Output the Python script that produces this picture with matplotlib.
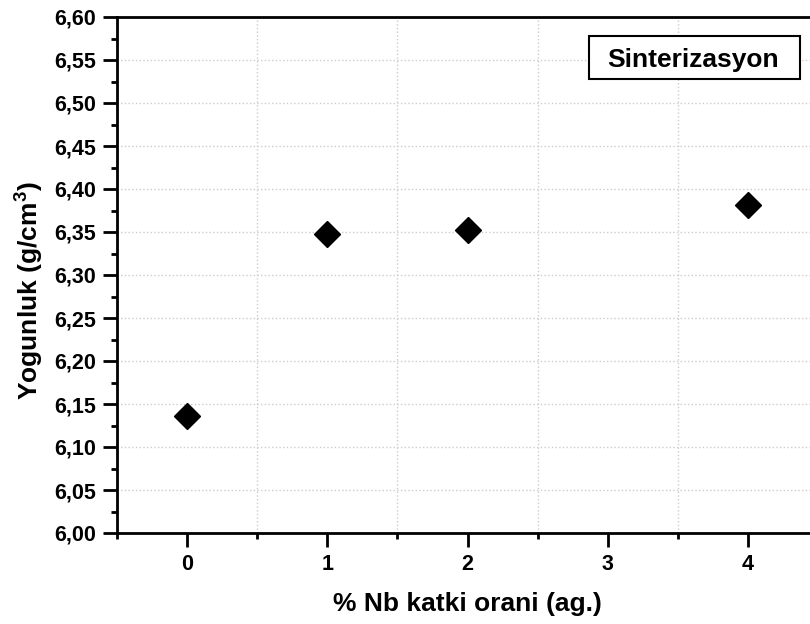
import matplotlib
matplotlib.use("Agg")
import matplotlib.pyplot as plt
from matplotlib.ticker import MultipleLocator, FuncFormatter
from matplotlib.patches import Rectangle

# % Nb katki orani ve yogunluk degerleri
nb_orani = [0, 1, 2, 4]
yogunluk = [6.136, 6.348, 6.352, 6.381]

x_ticks = [0, 1, 2, 3, 4]
etiket = "Sinterizasyon"

plt.rcParams["font.family"] = ["Liberation Sans", "DejaVu Sans"]
plt.rcParams["font.weight"] = "bold"
plt.rcParams["mathtext.fontset"] = "custom"
plt.rcParams["mathtext.rm"] = "Liberation Sans:bold"
plt.rcParams["mathtext.bf"] = "Liberation Sans:bold"

fig = plt.figure(figsize=(8.1, 6.24), dpi=100)
ax = fig.add_axes([117 / 810, 91 / 624, 701 / 810, 516 / 624])

ax.plot(nb_orani, yogunluk, linestyle="none", marker="D",
        markersize=13.7, color="black", zorder=5)

ax.set_xlim(-0.5, 4.5)
ax.set_ylim(6.0, 6.6)
ax.set_xticks(x_ticks)
ax.xaxis.set_minor_locator(MultipleLocator(0.5))
ax.yaxis.set_major_locator(MultipleLocator(0.05))
ax.yaxis.set_minor_locator(MultipleLocator(0.025))
ax.yaxis.set_major_formatter(FuncFormatter(lambda v, p: f"{v:.2f}".replace(".", ",")))

ax.grid(True, which="major", axis="y", linestyle=":", color="#cccccc", linewidth=1)
ax.grid(True, which="minor", axis="x", linestyle=":", color="#cccccc", linewidth=1)
ax.set_axisbelow(True)

for s in ax.spines.values():
    s.set_linewidth(2)

ax.tick_params(which="major", direction="out", length=10, width=2, labelsize=15.5)
ax.tick_params(which="minor", direction="out", length=4.5, width=2)
ax.tick_params(axis="y", which="major", pad=5)
ax.tick_params(axis="x", which="major", pad=5)

ax.set_xlabel("% Nb katki orani (ag.)", fontsize=19, fontweight="bold")
ax.set_ylabel(r"Yogunluk (g/cm$^3$)", fontsize=19, fontweight="bold")
ax.xaxis.set_label_coords(0.5, -0.114)
ax.yaxis.set_label_coords(-0.103, 0.47)

ax.add_patch(Rectangle((0.6733, 0.8798), 0.301, 0.0834, transform=ax.transAxes,
                       facecolor="white", edgecolor="black", linewidth=1.5, zorder=6))
ax.text(0.8223, 0.9037, etiket, transform=ax.transAxes, ha="center", va="baseline",
        fontsize=19, fontweight="bold", zorder=7)

fig.savefig("out.png", dpi=100)
